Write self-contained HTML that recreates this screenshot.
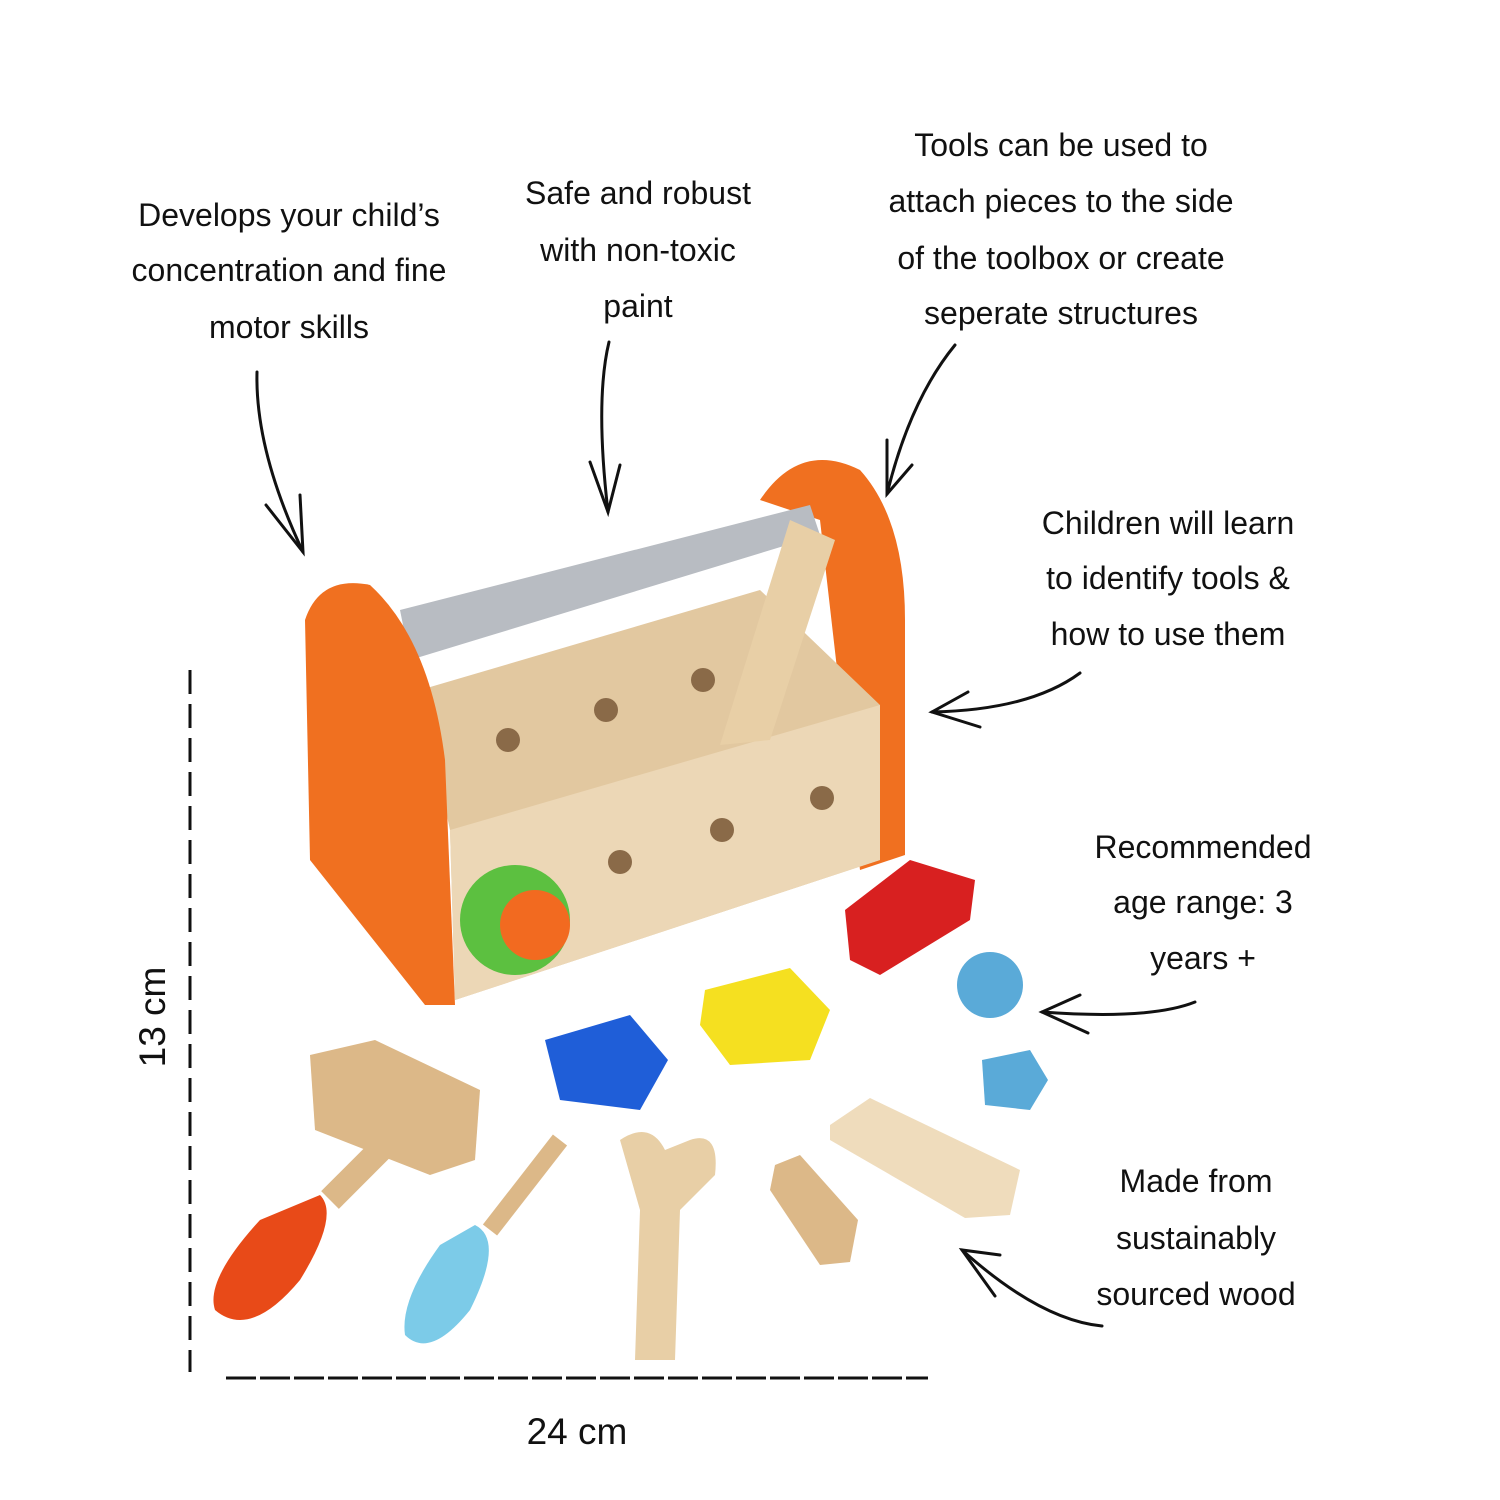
<!DOCTYPE html>
<html><head><meta charset="utf-8"><style>
html,body{margin:0;padding:0;background:#fff;}
svg{display:block}
text{font-family:"Liberation Sans",sans-serif;fill:#111;}
</style></head><body>
<svg width="1500" height="1500" viewBox="0 0 1500 1500" xmlns="http://www.w3.org/2000/svg">
<rect width="1500" height="1500" fill="#fff"/>
<g font-size="32" text-anchor="middle">
<text x="289" y="226">Develops your child’s</text>
<text x="289" y="281">concentration and fine</text>
<text x="289" y="338">motor skills</text>
<text x="638" y="204">Safe and robust</text>
<text x="638" y="261">with non-toxic</text>
<text x="638" y="317">paint</text>
<text x="1061" y="156">Tools can be used to</text>
<text x="1061" y="212">attach pieces to the side</text>
<text x="1061" y="269">of the toolbox or create</text>
<text x="1061" y="324">seperate structures</text>
<text x="1168" y="534">Children will learn</text>
<text x="1168" y="589">to identify tools &amp;</text>
<text x="1168" y="645">how to use them</text>
<text x="1203" y="858">Recommended</text>
<text x="1203" y="913">age range: 3</text>
<text x="1203" y="969">years +</text>
<text x="1196" y="1192">Made from</text>
<text x="1196" y="1249">sustainably</text>
<text x="1196" y="1305">sourced wood</text>
<text x="577" y="1444" font-size="37">24 cm</text>
<text x="0" y="0" font-size="37" transform="translate(165,1017) rotate(-90)">13 cm</text>
</g>
<g stroke="#111" stroke-width="3" fill="none" stroke-linecap="round">
<path d="M257 372 Q255 450 303 552"/><path d="M266 505 L303 552 L300 495"/>
<path d="M609 342 Q595 400 608 512"/><path d="M590 462 L608 512 L620 465"/>
<path d="M955 345 Q910 400 887 494"/><path d="M887 440 L887 494 L912 465"/>
<path d="M1080 673 Q1030 710 932 712"/><path d="M968 692 L932 712 L980 727"/>
<path d="M1195 1002 Q1150 1020 1042 1012"/><path d="M1080 995 L1042 1012 L1088 1033"/>
<path d="M1102 1326 Q1040 1320 962 1250"/><path d="M1000 1255 L962 1250 L995 1296"/>
</g>
<g stroke="#111" stroke-width="3">
<line x1="190" y1="670" x2="190" y2="1372" stroke-dasharray="24,10"/>
<line x1="226" y1="1378" x2="928" y2="1378" stroke-dasharray="30,4"/>
</g>
<!-- toolbox -->
<path d="M760 500 Q800 440 860 470 Q905 520 905 620 L905 855 L860 870 L820 520 Z" fill="#f07020"/>
<path d="M400 610 L810 505 L820 535 L410 660 Z" fill="#b8bcc2"/>
<path d="M420 690 L760 590 L880 705 L880 860 L455 1000 L450 830 Z" fill="#e2c8a0"/>
<path d="M450 830 L880 705 L880 860 L455 1000 Z" fill="#ecd7b6"/>
<path d="M720 745 L790 520 L835 540 L770 740 Z" fill="#e8cfa6"/>
<path d="M305 620 Q320 575 370 585 Q430 640 445 760 L455 1005 L425 1005 L310 860 Z" fill="#f07020"/>
<circle cx="515" cy="920" r="55" fill="#5cc040"/>
<circle cx="535" cy="925" r="35" fill="#f26a20"/>
<g fill="#8a6a48"><circle cx="508" cy="740" r="12"/><circle cx="606" cy="710" r="12"/><circle cx="703" cy="680" r="12"/><circle cx="620" cy="862" r="12"/><circle cx="722" cy="830" r="12"/><circle cx="822" cy="798" r="12"/></g>
<!-- parts -->
<path d="M545 1040 L630 1015 L668 1060 L640 1110 L560 1100 Z" fill="#1f5ed8"/>
<path d="M705 990 L790 968 L830 1010 L810 1060 L730 1065 L700 1025 Z" fill="#f5e020"/>
<path d="M845 910 L910 860 L975 880 L970 920 L880 975 L850 960 Z" fill="#d82020"/>
<circle cx="990" cy="985" r="33" fill="#5aaad8"/>
<path d="M982 1060 L1030 1050 L1048 1080 L1030 1110 L985 1105 Z" fill="#5aaad8"/>
<path d="M830 1125 L870 1098 L1020 1170 L1010 1215 L965 1218 L830 1140 Z" fill="#efdcbc"/>
<path d="M775 1165 L800 1155 L858 1220 L850 1262 L820 1265 L770 1190 Z" fill="#dcb888"/>
<path d="M310 1055 L375 1040 L480 1090 L475 1160 L430 1175 L315 1130 Z" fill="#dcb888"/>
<path d="M400 1130 L330 1200" stroke="#dcb888" stroke-width="25"/>
<path d="M320 1195 Q340 1215 300 1280 Q250 1340 215 1310 Q205 1280 260 1220 Z" fill="#e84a18"/>
<path d="M560 1140 L490 1230" stroke="#dcb888" stroke-width="18"/>
<path d="M475 1225 Q505 1240 470 1310 Q430 1360 405 1335 Q400 1300 440 1245 Z" fill="#7ccbe8"/>
<path d="M620 1140 Q650 1120 665 1150 L690 1140 Q720 1130 715 1175 L680 1210 L675 1360 L635 1360 L640 1210 Z" fill="#e8cfa6"/>
</svg>
</body></html>
